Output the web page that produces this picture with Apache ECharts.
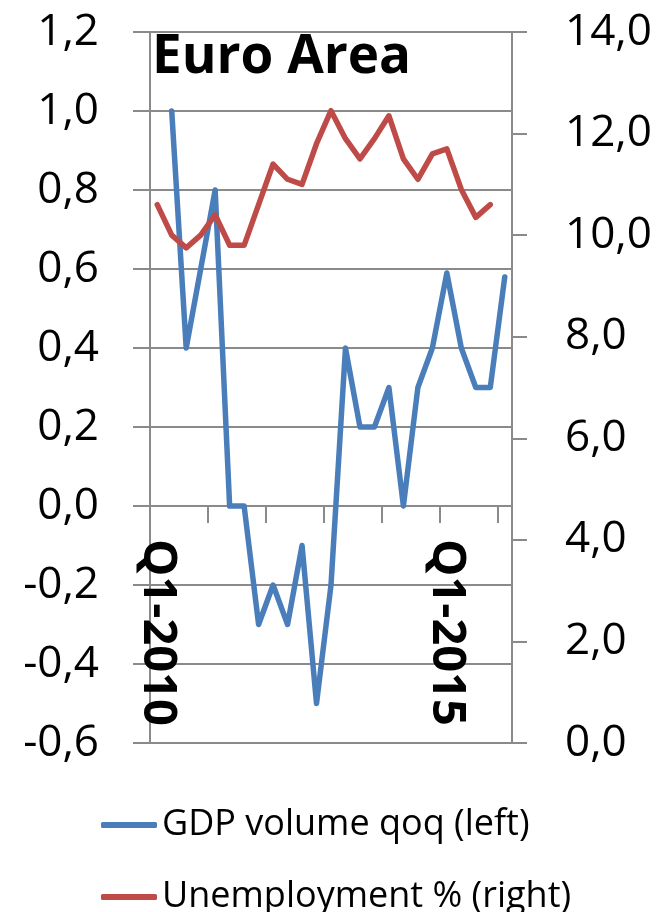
<!DOCTYPE html>
<html>
<head>
<meta charset="utf-8">
<script src="https://cdn.jsdelivr.net/npm/echarts@6/dist/echarts.min.js"></script>
<style>
  html, body { margin: 0; padding: 0; background: #fff; }
  #chart { width: 660px; height: 912px; }
</style>
</head>
<body>
<div id="chart"></div>
<script>
// quarters on the x axis, Q1-2010 .. Q1-2016
var categories = [
  'Q1-2010', 'Q2-2010', 'Q3-2010', 'Q4-2010',
  'Q1-2011', 'Q2-2011', 'Q3-2011', 'Q4-2011',
  'Q1-2012', 'Q2-2012', 'Q3-2012', 'Q4-2012',
  'Q1-2013', 'Q2-2013', 'Q3-2013', 'Q4-2013',
  'Q1-2014', 'Q2-2014', 'Q3-2014', 'Q4-2014',
  'Q1-2015', 'Q2-2015', 'Q3-2015', 'Q4-2015',
  'Q1-2016'
];
// only these quarters get a label
var shownLabels = ['Q1-2010', 'Q1-2015'];

var gdpQoq = [null, 1.0, 0.4, 0.6, 0.8, 0.0, 0.0, -0.3, -0.2, -0.3, -0.1, -0.5, -0.2,
  0.4, 0.2, 0.2, 0.3, 0.0, 0.3, 0.4, 0.59, 0.4, 0.3, 0.3, 0.58];
var unemployment = [10.6, 10.0, 9.75, 10.0, 10.4, 9.8, 9.8, 10.6, 11.4, 11.1, 11.0, 11.8, 12.45,
  11.9, 11.5, 11.9, 12.35, 11.5, 11.1, 11.6, 11.7, 10.9, 10.35, 10.6, null];

var gridColor = '#8a8a8a';
var font = '"Open Sans", sans-serif';

function comma(v) {
  if (Math.abs(v) < 1e-9) v = 0;
  return v.toFixed(1).replace('.', ',');
}

// one legend box per row so they stack like the original
function legendRow(name, top) {
  return {
    data: [name],
    left: 96,
    top: top,
    itemWidth: 56,
    itemHeight: 6,
    icon: 'roundRect',
    textStyle: { fontFamily: font, fontSize: 36, color: '#000' }
  };
}

var myChart = echarts.init(document.getElementById('chart'));
var option = {
  animation: false,
  textStyle: { fontFamily: font },
  title: {
    text: 'Euro Area',
    left: 147,
    top: 26,
    textStyle: { fontFamily: font, fontSize: 53, fontWeight: 'bold', color: '#000' }
  },
  legend: [
    legendRow('GDP volume qoq (left)', 802),
    legendRow('Unemployment % (right)', 874)
  ],
  grid: {
    left: 150,
    right: 148,
    top: 32,
    bottom: 169,
    outerBoundsMode: 'none'
  },
  xAxis: {
    type: 'category',
    data: categories,
    boundaryGap: true,
    // sits on the zero line of the left axis (1/3 of the plot height up)
    offset: -237,
    axisLine: {
      onZero: false,
      lineStyle: { color: gridColor, width: 2 }
    },
    axisTick: {
      show: true,
      interval: 3,
      length: 17,
      lineStyle: { color: gridColor, width: 2 }
    },
    axisLabel: {
      interval: function (idx, val) { return shownLabels.indexOf(val) >= 0; },
      rotate: -90,
      margin: 33,
      fontFamily: font,
      fontSize: 47,
      fontWeight: 'bold',
      color: '#000'
    },
    splitLine: { show: false }
  },
  yAxis: [{
    type: 'value',
    position: 'left',
    min: -0.6,
    max: 1.2,
    interval: 0.2,
    axisLine: { show: true, lineStyle: { color: gridColor, width: 2 } },
    axisTick: { show: true, length: 17, lineStyle: { color: gridColor, width: 2 } },
    axisLabel: {
      margin: 51,
      fontFamily: font,
      fontSize: 44,
      color: '#000',
      formatter: comma
    },
    splitLine: { show: true, lineStyle: { color: gridColor, width: 2 } }
  }, {
    type: 'value',
    position: 'right',
    min: 0,
    max: 14,
    interval: 2,
    axisLine: { show: true, lineStyle: { color: gridColor, width: 2 } },
    axisTick: { show: true, length: 15, lineStyle: { color: gridColor, width: 2 } },
    axisLabel: {
      margin: 53,
      fontFamily: font,
      fontSize: 44,
      color: '#000',
      formatter: comma
    },
    splitLine: { show: false }
  }],
  series: [{
    name: 'GDP volume qoq (left)',
    type: 'line',
    yAxisIndex: 0,
    data: gdpQoq,
    symbol: 'none',
    itemStyle: { color: '#4a7ebb' },
    lineStyle: { color: '#4a7ebb', width: 5.5, cap: 'round', join: 'round' }
  }, {
    name: 'Unemployment % (right)',
    type: 'line',
    yAxisIndex: 1,
    data: unemployment,
    symbol: 'none',
    itemStyle: { color: '#be4b48' },
    lineStyle: { color: '#be4b48', width: 5.5, cap: 'round', join: 'round' }
  }]
};
myChart.setOption(option);
</script>
</body>
</html>
